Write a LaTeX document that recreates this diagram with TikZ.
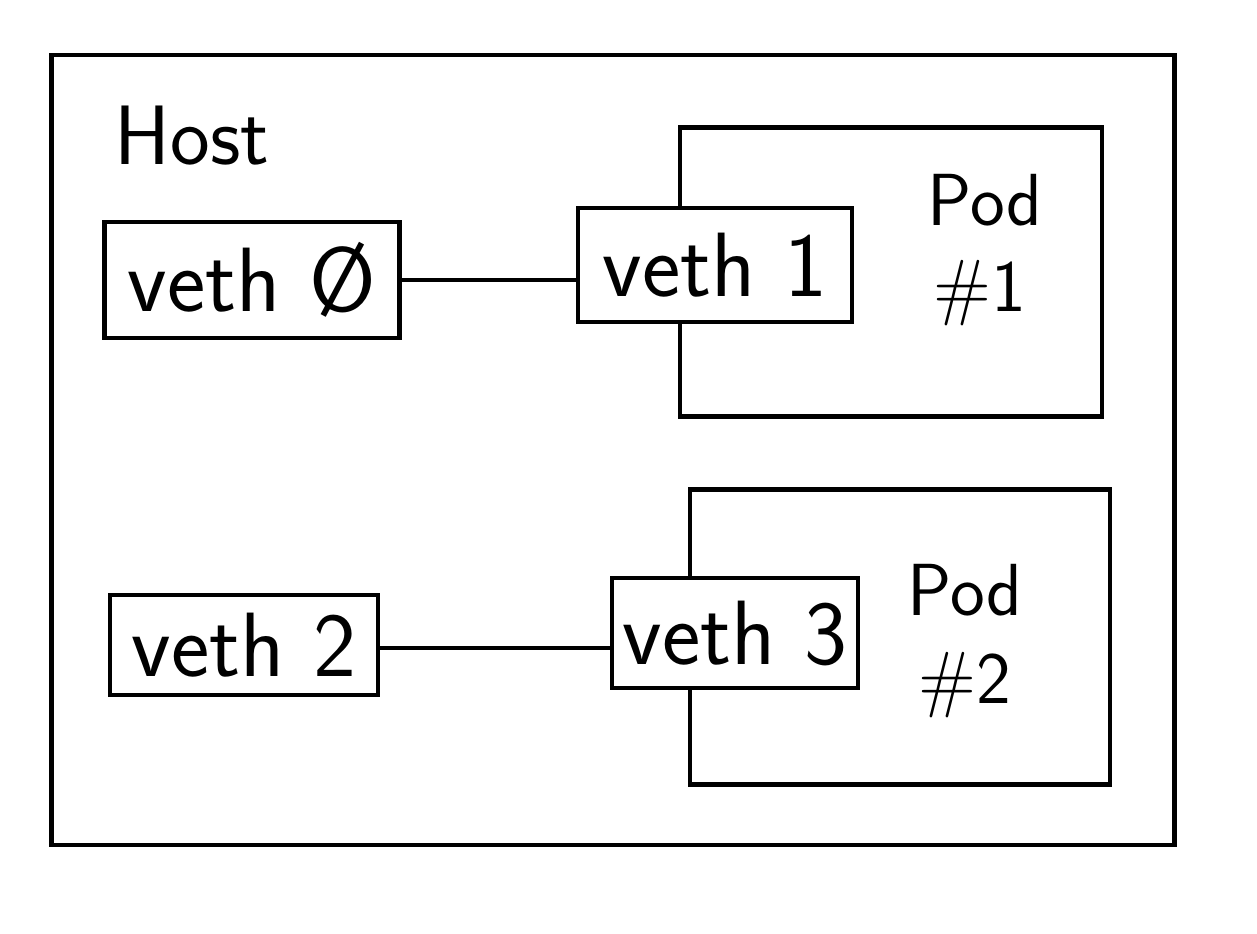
\documentclass[tikz,border=0pt]{standalone}
\begin{document}
\begin{tikzpicture}[x=0.1mm,y=-0.1mm,line width=1.4pt,
    box/.style={draw,fill=white,inner sep=0pt,font=\sffamily\fontsize{26}{30}\selectfont},
    frame/.style={draw,inner sep=0pt},
    tag/.style={font=\sffamily\fontsize{21}{25}\selectfont}]
        \useasboundingbox (0,0) rectangle (1257,933);
        \node[frame,minimum width=11.23cm,minimum height=7.9cm] (host) at (613,450) {};
        \node[tag,font=\sffamily\fontsize{24}{28}\selectfont] (hostlabel) at (192,136) {Host};
        \node[frame,minimum width=4.22cm,minimum height=2.89cm] (pod1) at (891,272) {};
        \node[frame,minimum width=4.2cm,minimum height=2.95cm] (pod2) at (900,637) {};
        \node[box,minimum width=2.95cm,minimum height=1.16cm] (veth0) at (252,280) {veth Ø};
        \node[box,minimum width=2.74cm,minimum height=1.14cm] (veth1) at (715,265) {veth 1};
        \node[box,minimum width=2.68cm,minimum height=1.0cm] (veth2) at (244,645) {veth 2};
        \node[box,minimum width=2.46cm,minimum height=1.1cm] (veth3) at (735,633) {veth 3};
        \draw (veth0.east) -- (veth0.east -| veth1.west);
        \draw ([yshift=-0.03cm]veth2.east) -- ([yshift=-0.03cm]veth2.east -| veth3.west);
        \node[tag] (pod1label) at (985,200) {Pod};
        \node[tag] (pod1num) at (980,293) {\#1};
        \node[tag] (pod2label) at (965,590) {Pod};
        \node[tag] (pod2num) at (965,685) {\#2};
\end{tikzpicture}
\end{document}
